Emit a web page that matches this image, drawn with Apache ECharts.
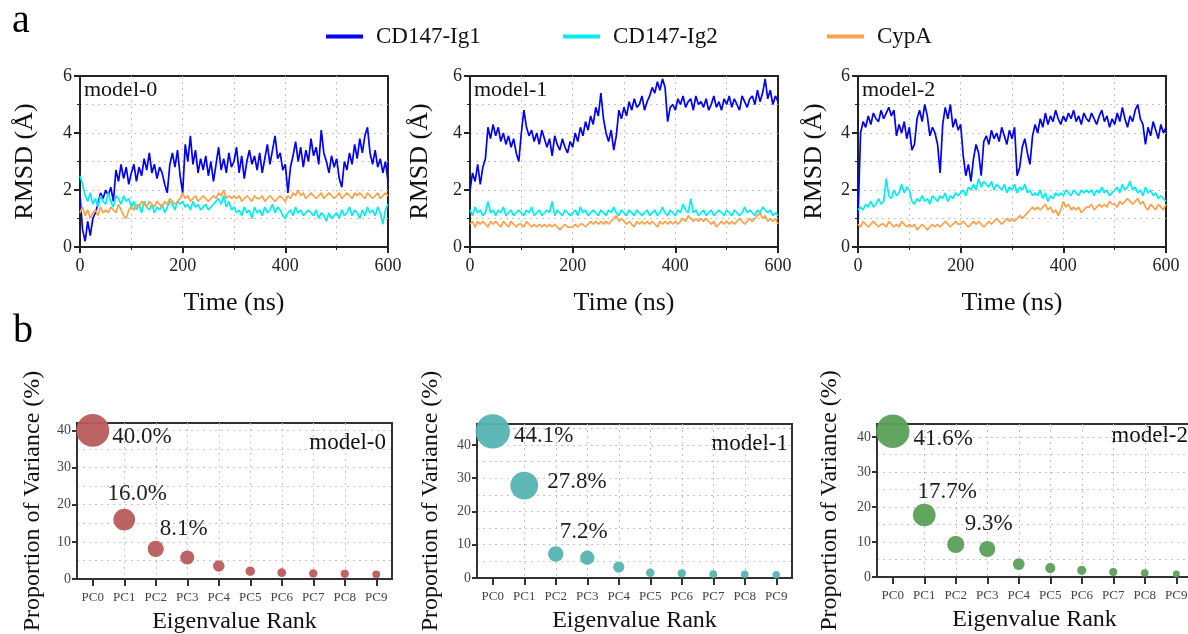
<!DOCTYPE html>
<html>
<head>
<meta charset="utf-8">
<script src="https://cdn.jsdelivr.net/npm/echarts@6/dist/echarts.min.js"></script>
<style>
html, body { margin: 0; padding: 0; background: #fff; }
#main { width: 1188px; height: 634px; }
</style>
</head>
<body>
<div id="main"></div>
<script>
// 采样时间 (ns)
var time = [0,5,10,15,20,25,30,35,40,45,
	50,55,60,65,70,75,80,85,90,95,
	100,105,110,115,120,125,130,135,140,145,
	150,155,160,165,170,175,180,185,190,195,
	200,205,210,215,220,225,230,235,240,245,
	250,255,260,265,270,275,280,285,290,295,
	300,305,310,315,320,325,330,335,340,345,
	350,355,360,365,370,375,380,385,390,395,
	400,405,410,415,420,425,430,435,440,445,
	450,455,460,465,470,475,480,485,490,495,
	500,505,510,515,520,525,530,535,540,545,
	550,555,560,565,570,575,580,585,590,595,
	600];

// model-0 RMSD
var m0_ig1 = [1.8,0.6,0.2,0.9,0.4,1.0,1.2,1.5,1.9,1.7,
	2.0,1.8,2.1,1.6,2.7,2.3,2.9,2.4,2.8,2.2,
	2.6,2.9,2.3,2.8,2.5,3.1,2.7,3.3,2.6,2.9,
	2.4,2.8,2.6,2.2,1.9,2.9,3.3,2.8,3.4,2.5,
	1.9,3.6,3.0,3.9,2.9,3.4,2.6,3.1,2.7,3.2,
	2.5,3.0,2.3,2.9,3.5,2.7,3.1,2.6,3.3,2.8,
	3.0,3.5,2.6,3.2,2.4,3.0,3.4,2.9,3.2,2.7,
	3.3,2.6,3.1,3.6,2.9,3.4,3.9,3.1,3.3,2.7,
	2.9,1.9,2.8,3.2,3.7,3.0,3.5,2.8,3.4,3.0,
	3.8,3.2,3.5,2.9,4.1,3.3,3.0,2.6,3.2,2.8,
	3.1,2.4,2.1,3.0,2.7,3.3,2.9,3.6,3.1,3.8,
	3.3,3.9,4.2,3.3,2.9,3.4,2.8,3.1,2.6,3.0,
	2.3];
var m0_ig2 = [2.5,2.2,1.8,1.6,1.9,1.5,1.7,1.4,1.8,1.6,
	1.5,1.9,1.6,1.4,1.8,1.7,1.5,1.8,1.6,1.7,
	1.4,1.6,1.3,1.5,1.2,1.6,1.4,1.3,1.5,1.2,
	1.4,1.3,1.5,1.2,1.4,1.6,1.5,1.3,1.6,1.5,
	1.6,1.4,1.5,1.3,1.6,1.4,1.5,1.3,1.4,1.5,
	1.3,1.4,1.5,1.6,1.7,1.5,1.8,1.4,1.6,1.3,
	1.4,1.2,1.3,1.1,1.4,1.2,1.3,1.0,1.4,1.2,
	1.3,1.1,1.4,1.2,1.3,1.5,1.2,1.4,1.3,1.1,
	1.0,1.2,1.3,1.1,1.4,1.2,1.3,1.1,1.2,1.3,
	1.2,1.1,1.3,1.0,1.2,1.1,0.9,1.2,1.0,1.1,
	1.2,1.0,1.3,1.1,1.2,1.4,1.1,1.3,1.2,1.0,
	1.3,1.1,1.4,1.2,1.3,1.1,1.4,1.2,0.8,1.3,
	1.5];
var m0_cyp = [1.2,1.4,1.1,1.3,1.0,1.2,1.3,1.1,1.4,1.2,
	1.3,1.2,1.4,1.3,1.2,1.5,1.3,1.1,1.0,1.3,
	1.4,1.3,1.5,1.4,1.6,1.5,1.4,1.6,1.5,1.4,
	1.6,1.5,1.4,1.6,1.5,1.7,1.6,1.5,1.6,1.7,
	1.9,1.7,1.8,1.6,1.7,1.8,1.6,1.7,1.8,1.7,
	1.6,1.7,1.8,1.7,1.9,1.8,2.0,1.7,1.8,1.7,
	1.8,1.7,1.8,1.6,1.7,1.8,1.7,1.6,1.8,1.7,
	1.7,1.8,1.6,1.7,1.8,1.7,1.6,1.7,1.8,1.7,
	1.6,1.8,1.7,1.9,1.8,2.0,1.8,1.9,1.7,1.8,
	1.9,1.8,1.7,1.8,1.9,1.7,1.8,1.9,1.8,1.7,
	1.8,1.9,1.7,1.8,1.9,1.8,1.7,1.9,1.8,1.9,
	1.8,1.7,1.9,1.8,1.7,1.8,1.9,1.7,1.8,1.9,
	1.8];

// model-1 RMSD
var m1_ig1 = [2.0,2.6,2.3,2.9,2.2,2.8,3.1,4.2,3.8,4.3,
	3.9,4.2,3.7,4.0,3.6,3.9,3.5,3.8,3.3,3.0,
	4.0,4.8,4.2,3.9,4.1,3.7,4.0,3.6,4.1,3.8,
	3.5,3.8,3.2,3.9,3.6,3.4,3.8,3.5,3.3,3.7,
	3.5,4.0,3.7,4.2,3.9,4.4,4.1,4.6,4.3,4.9,
	4.6,5.4,4.5,4.0,3.7,4.1,3.4,3.9,4.8,4.5,
	4.9,4.6,5.1,4.8,5.2,4.9,5.0,5.3,4.8,5.1,
	5.3,5.6,5.4,5.8,5.5,5.9,5.6,4.4,4.9,5.0,
	4.8,5.2,5.0,5.3,4.9,5.1,5.2,4.8,5.3,5.0,
	5.1,4.9,5.2,4.8,5.0,5.3,4.9,5.1,4.8,5.2,
	5.0,5.3,4.9,5.2,5.0,4.8,5.3,5.1,4.9,5.2,
	5.3,5.0,5.5,5.1,5.4,5.9,5.2,5.5,5.0,5.3,
	5.1];
var m1_ig2 = [1.3,1.1,1.4,1.2,1.3,1.1,1.2,1.6,1.2,1.3,
	1.1,1.3,1.2,1.4,1.1,1.2,1.3,1.1,1.2,1.3,
	1.2,1.1,1.3,1.2,1.4,1.1,1.2,1.3,1.1,1.2,
	1.3,1.2,1.6,1.1,1.3,1.2,1.1,1.3,1.2,1.1,
	1.2,1.3,1.1,1.4,1.2,1.3,1.1,1.2,1.3,1.2,
	1.1,1.3,1.2,1.1,1.3,1.2,1.4,1.2,1.1,1.3,
	1.2,1.1,1.3,1.2,1.1,1.3,1.2,1.1,1.2,1.3,
	1.1,1.2,1.3,1.1,1.2,1.4,1.2,1.1,1.3,1.2,
	1.1,1.3,1.2,1.5,1.3,1.2,1.7,1.2,1.3,1.1,
	1.2,1.3,1.1,1.2,1.3,1.1,1.2,1.3,1.2,1.1,
	1.3,1.2,1.1,1.3,1.2,1.1,1.2,1.4,1.2,1.3,
	1.2,1.1,1.3,1.2,1.4,1.3,1.2,1.3,1.1,1.2,
	1.1];
var m1_cyp = [0.8,0.9,0.7,0.9,0.8,0.9,0.8,0.7,0.9,0.8,
	0.9,0.8,0.7,0.9,0.8,0.7,0.9,0.8,0.7,0.8,
	0.8,0.7,0.9,0.8,0.7,0.8,0.7,0.8,0.7,0.8,
	0.7,0.8,0.7,0.8,0.7,0.6,0.7,0.8,0.7,0.7,
	0.7,0.8,0.7,0.8,0.8,0.7,0.8,0.9,0.8,0.9,
	0.8,0.9,0.8,0.9,0.8,0.9,1.0,1.1,0.9,1.0,
	0.9,0.8,0.9,0.8,0.7,0.9,0.8,0.9,0.8,0.9,
	0.8,0.9,0.8,0.7,0.9,0.8,0.9,0.8,0.9,0.8,
	0.9,0.8,0.9,1.0,0.9,1.1,1.0,0.9,1.0,0.9,
	1.0,0.9,1.0,0.9,0.8,0.9,0.7,0.8,0.9,0.8,
	0.9,0.8,0.9,0.8,0.9,1.0,0.9,0.8,0.9,1.0,
	0.9,1.0,1.1,1.2,1.0,1.1,0.9,1.0,0.9,1.0,
	0.8];

// model-2 RMSD
var m2_ig1 = [1.0,4.0,4.4,4.2,4.6,4.3,4.7,4.5,4.4,4.8,
	4.5,4.7,4.9,4.6,4.8,3.9,4.3,4.0,4.4,3.8,
	4.2,3.4,3.6,4.5,4.8,4.4,5.0,4.6,3.9,4.2,
	4.0,3.6,2.6,4.3,4.9,4.5,5.0,4.2,4.5,4.1,
	4.3,3.2,2.5,2.9,2.3,3.1,3.6,3.3,2.5,3.7,
	3.9,3.6,4.1,3.8,4.0,3.7,4.2,3.9,3.6,4.1,
	3.8,4.2,2.5,2.8,3.5,3.8,3.3,2.9,3.9,4.3,
	4.0,4.5,4.2,4.7,4.3,4.6,4.4,4.8,4.5,4.3,
	4.6,4.4,4.7,4.5,4.8,4.4,4.6,4.3,4.7,4.5,
	4.4,4.7,4.5,4.3,4.6,4.8,4.4,4.6,4.2,4.5,
	4.3,4.7,4.4,4.9,4.5,4.2,4.6,4.4,4.8,5.0,
	4.5,4.3,3.6,4.2,3.9,4.4,4.1,3.8,4.3,4.0,
	4.2];
var m2_ig2 = [1.3,1.4,1.3,1.5,1.4,1.6,1.4,1.5,1.7,1.5,
	1.6,2.4,1.8,1.7,2.0,1.8,1.9,2.2,1.9,2.1,
	2.0,1.6,1.5,1.7,1.6,1.8,1.6,1.7,1.5,1.8,
	1.7,1.6,1.8,1.7,1.9,1.6,1.8,1.7,1.9,1.8,
	1.9,2.0,1.8,2.1,2.0,2.2,2.0,2.4,2.1,2.3,
	2.2,2.1,2.3,2.0,2.2,2.1,2.0,2.2,1.9,2.1,
	2.0,2.2,1.9,2.1,2.0,2.2,1.9,2.0,1.8,1.9,
	1.8,2.0,1.7,1.9,1.6,1.8,1.7,1.9,1.8,1.9,
	1.8,2.0,1.9,1.8,2.0,1.9,1.8,2.0,1.9,2.0,
	1.9,2.0,1.8,2.0,1.9,2.1,1.9,2.0,1.8,1.9,
	2.0,2.1,1.9,2.2,2.0,2.1,2.3,2.0,2.1,1.9,
	2.0,1.8,2.1,1.9,2.0,1.8,1.9,1.7,1.8,1.7,
	1.6];
var m2_cyp = [0.8,0.7,0.9,0.8,0.7,0.8,0.9,0.8,0.7,0.8,
	0.8,0.7,0.9,0.8,0.7,0.8,0.7,0.9,0.8,0.7,
	0.8,0.7,0.8,0.6,0.7,0.8,0.7,0.6,0.7,0.8,
	0.7,0.8,0.7,0.8,0.9,0.8,0.7,0.8,0.9,0.8,
	0.8,0.9,0.8,0.7,0.8,0.9,0.8,0.9,0.8,0.7,
	0.8,0.9,0.8,0.9,1.0,0.9,0.8,0.9,1.0,0.9,
	1.0,0.9,1.0,1.1,1.0,1.1,1.2,1.3,1.4,1.3,
	1.4,1.3,1.4,1.5,1.3,1.4,1.2,1.3,1.1,1.3,
	1.6,1.4,1.5,1.3,1.4,1.3,1.4,1.2,1.3,1.4,
	1.4,1.5,1.3,1.4,1.5,1.4,1.5,1.4,1.6,1.5,
	1.5,1.4,1.6,1.5,1.6,1.7,1.6,1.5,1.6,1.7,
	1.5,1.6,1.4,1.3,1.5,1.4,1.3,1.5,1.4,1.3,
	1.5];

// PCA 方差占比 (%)
var pc_rank = [0,1,2,3,4,5,6,7,8,9];
var pc_names = ['PC0','PC1','PC2','PC3','PC4','PC5','PC6','PC7','PC8','PC9'];
var m0_var = [40.0,16.0,8.1,5.8,3.5,2.1,1.7,1.5,1.4,1.25];
var m1_var = [44.1,27.8,7.2,6.1,3.3,1.6,1.4,1.2,1.1,1.0];
var m2_var = [41.6,17.7,9.3,8.0,3.7,2.55,1.9,1.4,1.15,0.85];

var model_names = ['model-0','model-1','model-2'];
var series_names = ['CD147-Ig1','CD147-Ig2','CypA'];

var FONT = 'Liberation Serif';
var line_colors = ['#0000f5','#00eeee','#ffa24e'];
var bubble_colors = ['#bb5b5b','#55b4b2','#58a058'];
var grid_dot = {color: '#c4c4c4', type: [2, 4], width: 1};

var top_left = [80, 470, 858];
var top_name_gap = [42, 37, 31];
var bot_left = [77, 477, 877];
var bot_top = [423, 424, 424];
var bot_height = [156, 154, 153];
var bot_name_gap = [32, 34, 35];

// 前三个主成分的百分比标注位置
var pct_label_pos = [
	[{position: 'right', distance: 3, offset: [0, 7]}, {position: 'top', distance: 3, offset: [13, 0]}, {position: 'top', distance: 0, offset: [28, 0]}],
	[{position: 'right', distance: 4, offset: [0, 5]}, {position: 'right', distance: 9, offset: [0, -4]}, {position: 'top', distance: 3, offset: [28, 0]}],
	[{position: 'right', distance: 4, offset: [0, 8]}, {position: 'top', distance: 0, offset: [23, 0]}, {position: 'top', distance: 0, offset: [33, 0]}]
];

var chart = echarts.init(document.getElementById('main'), null, {renderer: 'canvas'});

function pairs(xs, ys) {
	return xs.map(function (x, i) {
		return [x, ys[i]];
	});
}

/**
 * 生成全部坐标系与系列
 * 网格顺序: 上排 0,1,2 ; 下排 3,4,5
 */
function buildOption() {
	var rmsd = [[m0_ig1, m0_ig2, m0_cyp], [m1_ig1, m1_ig2, m1_cyp], [m2_ig1, m2_ig2, m2_cyp]];
	var pca = [m0_var, m1_var, m2_var];
	var grids = [], xAxes = [], yAxes = [], series = [], graphics = [];
	var i, k;

	// 上排: RMSD
	for (i = 0; i < 3; i++) {
		grids.push({
			left: top_left[i], top: 76, width: 308, height: 171,
			show: true, borderColor: '#222', borderWidth: 2,
			containLabel: false, outerBoundsMode: 'none'
		});
		xAxes.push({
			gridIndex: i, type: 'value', min: 0, max: 600, interval: 200,
			name: 'Time (ns)', nameLocation: 'middle', nameGap: 43,
			nameTextStyle: {fontFamily: FONT, fontSize: 26, color: '#111'},
			axisLine: {show: true, onZero: false, lineStyle: {color: '#222', width: 2}},
			axisTick: {show: true, length: 6, lineStyle: {color: '#222', width: 2}},
			minorTick: {show: true, splitNumber: 2, length: 3, lineStyle: {color: '#222', width: 1}},
			axisLabel: {fontFamily: FONT, fontSize: 18, color: '#222', margin: 10},
			splitLine: {show: true, showMinLine: false, showMaxLine: false, lineStyle: grid_dot},
			minorSplitLine: {show: true, lineStyle: grid_dot}
		});
		yAxes.push({
			gridIndex: i, type: 'value', min: 0, max: 6, interval: 2,
			name: 'RMSD (Å)', nameLocation: 'middle', nameGap: top_name_gap[i], nameRotate: 90,
			nameTextStyle: {fontFamily: FONT, fontSize: 26, color: '#111'},
			axisLine: {show: true, onZero: false, lineStyle: {color: '#222', width: 2}},
			axisTick: {show: true, length: 6, lineStyle: {color: '#222', width: 2}},
			minorTick: {show: true, splitNumber: 2, length: 3, lineStyle: {color: '#222', width: 1}},
			axisLabel: {fontFamily: FONT, fontSize: 18, color: '#222', margin: 8},
			splitLine: {show: true, showMinLine: false, showMaxLine: false, lineStyle: grid_dot},
			minorSplitLine: {show: true, lineStyle: grid_dot}
		});
		for (k = 0; k < 3; k++) {
			series.push({
				name: series_names[k], type: 'line',
				xAxisIndex: i, yAxisIndex: i,
				data: pairs(time, rmsd[i][k]),
				color: line_colors[k],
				showSymbol: false, symbol: 'none',
				lineStyle: {width: 1.7, color: line_colors[k]},
				z: 2 + k, animation: false
			});
		}
		graphics.push({
			type: 'text', x: top_left[i] + 4, y: 90,
			style: {text: model_names[i], fontFamily: FONT, fontSize: 22, fill: '#111', verticalAlign: 'middle'}
		});
	}

	// 下排: PCA
	for (i = 0; i < 3; i++) {
		var g = i + 3;
		var vmax = Math.max.apply(null, pca[i]) * 1.05;
		grids.push({
			left: bot_left[i], top: bot_top[i], width: 315, height: bot_height[i],
			show: true, borderColor: '#333', borderWidth: 2,
			containLabel: false, outerBoundsMode: 'none'
		});
		xAxes.push({
			gridIndex: g, type: 'value', min: -0.5, max: 9.5, interval: 0.5,
			name: 'Eigenvalue Rank', nameLocation: 'middle', nameGap: 31,
			nameTextStyle: {fontFamily: FONT, fontSize: 24, color: '#111'},
			axisLine: {show: true, onZero: false, lineStyle: {color: '#333', width: 2}},
			axisTick: {show: true, length: 7, customValues: pc_rank, lineStyle: {color: '#333', width: 2}},
			axisLabel: {
				fontFamily: FONT, fontSize: 13, color: '#444', margin: 12, customValues: pc_rank,
				formatter: function (v) { return pc_names[v] || ''; }
			},
			splitLine: {show: true, showMinLine: false, showMaxLine: false, lineStyle: grid_dot}
		});
		yAxes.push({
			gridIndex: g, type: 'value', min: 0, max: vmax, interval: 10,
			name: 'Proportion of Variance (%)', nameLocation: 'middle', nameGap: bot_name_gap[i], nameRotate: 90,
			nameTextStyle: {fontFamily: FONT, fontSize: 24, color: '#111'},
			axisLine: {show: true, onZero: false, lineStyle: {color: '#333', width: 2}},
			axisTick: {show: true, length: 5, lineStyle: {color: '#333', width: 2}},
			minorTick: {show: false, splitNumber: 2},
			axisLabel: {fontFamily: FONT, fontSize: 14, color: '#444', margin: 6, showMaxLabel: false},
			splitLine: {show: true, showMinLine: false, showMaxLine: false, lineStyle: grid_dot},
			minorSplitLine: {show: true, lineStyle: grid_dot}
		});
		var pts = pairs(pc_rank, pca[i]).map(function (p, j) {
			var item = {value: p};
			if (j < 3) {
				item.label = Object.assign({show: true}, pct_label_pos[i][j]);
			}
			return item;
		});
		series.push({
			name: model_names[i] + ' PCA', type: 'scatter',
			xAxisIndex: g, yAxisIndex: g,
			data: pts,
			symbolSize: function (v) { return 4.8 * Math.sqrt(v[1]) + 2.5; },
			itemStyle: {color: bubble_colors[i], opacity: 0.95},
			label: {
				show: false, fontFamily: FONT, fontSize: 23, color: '#111',
				formatter: function (p) { return p.value[1].toFixed(1) + '%'; }
			},
			clip: true, animation: false, z: 5
		});
	}

	graphics.push(
		{type: 'text', x: 386, y: 443, style: {text: model_names[0], fontFamily: FONT, fontSize: 23, fill: '#111', align: 'right', verticalAlign: 'middle'}},
		{type: 'text', x: 788, y: 444, style: {text: model_names[1], fontFamily: FONT, fontSize: 23, fill: '#111', align: 'right', verticalAlign: 'middle'}},
		{type: 'text', x: 1188, y: 436, style: {text: model_names[2], fontFamily: FONT, fontSize: 23, fill: '#111', align: 'right', verticalAlign: 'middle'}},
		{type: 'text', x: 12, y: 21, style: {text: 'a', fontFamily: FONT, fontSize: 40, fill: '#000', verticalAlign: 'middle'}},
		{type: 'text', x: 13, y: 331, style: {text: 'b', fontFamily: FONT, fontSize: 40, fill: '#000', verticalAlign: 'middle'}}
	);

	var legend_left = [321, 558, 822];
	var legends = series_names.map(function (name, k) {
		return {
			data: [name], left: legend_left[k], top: 20,
			icon: 'rect', itemWidth: 37, itemHeight: 4,
			textStyle: {fontFamily: FONT, fontSize: 23, color: '#111', padding: [0, 0, 0, 8]},
			selectedMode: false
		};
	});

	return {
		backgroundColor: '#fff',
		animation: false,
		legend: legends,
		grid: grids,
		xAxis: xAxes,
		yAxis: yAxes,
		series: series,
		graphic: graphics
	};
}

chart.setOption(buildOption());
</script>
</body>
</html>
